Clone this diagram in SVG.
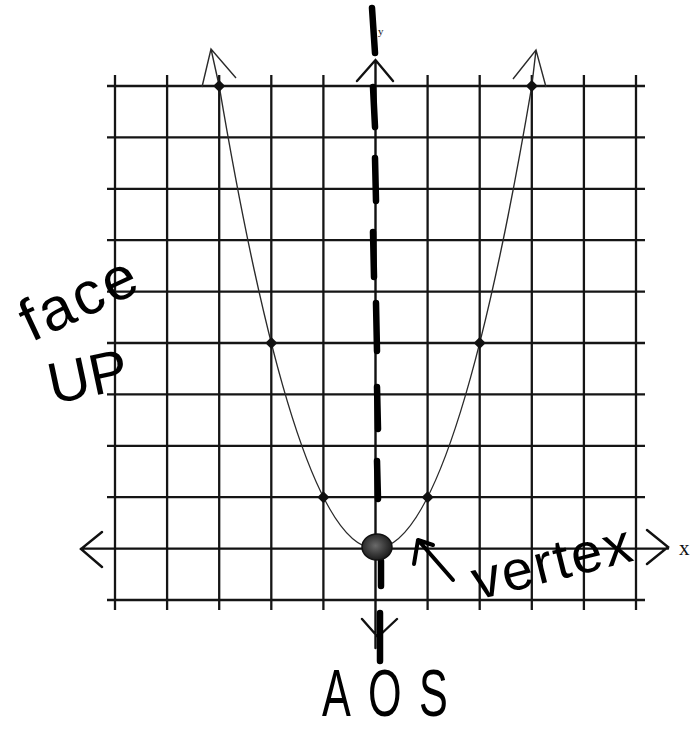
<svg xmlns="http://www.w3.org/2000/svg" width="694" height="731" viewBox="0 0 694 731">
<style>
.grid line{stroke:#151515;stroke-width:2.3}
.axis{stroke:#111;stroke-width:2.4;fill:none;stroke-linecap:round}
.curve{stroke:#2a2a2a;stroke-width:1.4;fill:none}
.pt{fill:#111}
.aos{stroke:#000;stroke-width:6.5;stroke-linecap:round;fill:none}
.hand{font-family:"Liberation Sans","DejaVu Sans",sans-serif;fill:#000}
.small{font-family:"Liberation Serif","DejaVu Serif",serif;fill:#111}
</style>
<defs>
<radialGradient id="vg" cx="0.45" cy="0.45" r="0.6">
<stop offset="0" stop-color="#6a6a6a"/>
<stop offset="0.55" stop-color="#3a3a3a"/>
<stop offset="1" stop-color="#161616"/>
</radialGradient>
</defs>
<rect width="694" height="731" fill="#fff"/>
<g id="grid" class="grid">
<line x1="115" y1="75" x2="115" y2="610"/>
<line x1="167.1" y1="75" x2="167.1" y2="610"/>
<line x1="219.2" y1="75" x2="219.2" y2="610"/>
<line x1="271.3" y1="75" x2="271.3" y2="610"/>
<line x1="323.4" y1="75" x2="323.4" y2="610"/>
<line x1="427.6" y1="75" x2="427.6" y2="610"/>
<line x1="479.7" y1="75" x2="479.7" y2="610"/>
<line x1="531.8" y1="75" x2="531.8" y2="610"/>
<line x1="583.9" y1="75" x2="583.9" y2="610"/>
<line x1="636" y1="75" x2="636" y2="610"/>
<line x1="107" y1="86" x2="645" y2="86"/>
<line x1="107" y1="137.4" x2="645" y2="137.4"/>
<line x1="107" y1="188.8" x2="645" y2="188.8"/>
<line x1="107" y1="240.2" x2="645" y2="240.2"/>
<line x1="107" y1="291.6" x2="645" y2="291.6"/>
<line x1="107" y1="343" x2="645" y2="343"/>
<line x1="107" y1="394.4" x2="645" y2="394.4"/>
<line x1="107" y1="445.8" x2="645" y2="445.8"/>
<line x1="107" y1="497.2" x2="645" y2="497.2"/>
<line x1="107" y1="600" x2="645" y2="600"/>
</g>
<g id="axes">
<path class="axis" d="M81 548.6 H668 M102 532 L81 549 L102 567 M647 530 L668 547 L647 564"/>
<path class="axis" d="M375.5 60 V648 M357 81 L375.5 60 L393 81 M362 619 L377 636 M397 619 L379 636"/>
<text class="small" x="679" y="555" font-size="21">x</text>
<text class="small" x="378" y="35" font-size="11">y</text>
</g>
<g id="parabola">
<path class="curve" d="M219.2 86 Q375.5 1011.2 531.8 86"/>
<path class="curve" d="M219.2 86 L211 49 M202 87 L211 49 L236 78"/>
<path class="curve" d="M531.8 86 L536 50 M513 79 L536 50 L546 87"/>
</g>
<g id="points">
<path class="pt" d="M219.2 80 l6 6 -6 6 -6 -6z"/>
<path class="pt" d="M531.8 80 l6 6 -6 6 -6 -6z"/>
<path class="pt" d="M271.3 337 l6 6 -6 6 -6 -6z"/>
<path class="pt" d="M479.7 337 l6 6 -6 6 -6 -6z"/>
<path class="pt" d="M323.4 491.2 l6 6 -6 6 -6 -6z"/>
<path class="pt" d="M427.6 491.2 l6 6 -6 6 -6 -6z"/>
</g>
<g id="aos-line">
<path class="aos" d="M372 8 L375 53 M373 87 L375 127 M375 158 L376 201 M373 232 L374 277 M376 303 L377 351 M377 387 L378 429 M377 461 L378 499 M381 561 L381 586 M380 613 L380 661"/>
</g>
<g id="vertex">
<ellipse cx="377" cy="547" rx="15" ry="13" fill="url(#vg)" stroke="#111" stroke-width="1.5"/>
</g>
<g id="vertex-pointer">
<path d="M453 580 L418 540 M414 564 L418 540 L433 545" fill="none" stroke="#000" stroke-width="4" stroke-linecap="round" stroke-linejoin="round"/>
</g>
<g id="labels">
<text class="hand" font-size="60" letter-spacing="3" text-anchor="middle" transform="translate(88,316) rotate(-25)">face</text>
<text class="hand" font-size="58" text-anchor="middle" transform="translate(92,396) rotate(-12)">UP</text>
<text class="hand" font-size="56" letter-spacing="2" text-anchor="middle" transform="translate(557,580) rotate(-14)">vertex</text>
<text class="hand" font-size="60" letter-spacing="24" transform="translate(322,716) scale(0.72,1.1)">AOS</text>
</g>
</svg>
